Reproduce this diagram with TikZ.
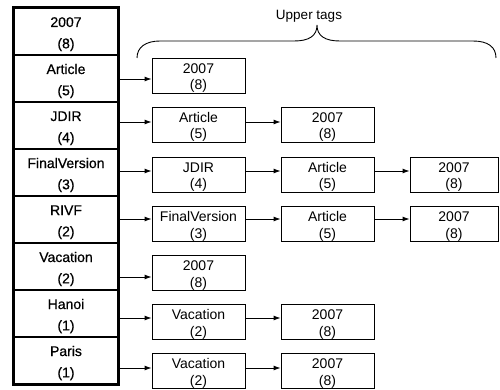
\documentclass[tikz,border=0pt]{standalone}
\usepackage{fontspec}
\setmainfont{Liberation Sans}
\newfontfamily\cellfont[FakeBold=0.6]{Liberation Sans}
\usetikzlibrary{arrows.meta}
\begin{document}
\begin{tikzpicture}[x=1pt,y=-1pt,
  tagcell/.style={draw,line width=1.5pt,minimum width=104pt,minimum height=47pt,
    inner sep=0pt,align=center,text height=36pt,text depth=2.4pt,
    font=\cellfont\fontsize{14}{21.3}\selectfont},
  tagbox/.style={draw,line width=0.9pt,minimum width=93pt,minimum height=35pt,
    inner sep=0pt,align=center,text height=31pt,text depth=2pt,
    font=\fontsize{14}{16.4}\selectfont},
  lastbox/.style={tagbox,minimum width=88pt},
  link/.style={line width=0.9pt,-{Latex[length=7pt,width=5pt]}}]
\useasboundingbox (0,0) rectangle (500,390);

% tag list, most frequent first
\node[tagcell] (L1) at (66,31.5)  {2007\\(8)};
\node[tagcell] (L2) at (66,78.5)  {Article\\(5)};
\node[tagcell] (L3) at (66,125.5) {JDIR\\(4)};
\node[tagcell] (L4) at (66,172.5) {FinalVersion\\(3)};
\node[tagcell] (L5) at (66,219.5) {RIVF\\(2)};
\node[tagcell] (L6) at (66,266.5) {Vacation\\(2)};
\node[tagcell] (L7) at (66,313.5) {Hanoi\\(1)};
\node[tagcell] (L8) at (66,360.5) {Paris\\(1)};
\draw[line width=3pt] (L1.north west) rectangle (L8.south east);

% chains of upper tags
\node[tagbox] (B11) at (198.5,75.5) {2007\\(8)};

\node[tagbox] (B21) at (198.5,124.5) {Article\\(5)};
\node[tagbox] (B22) at (327.5,124.5) {2007\\(8)};

\node[tagbox]  (B31) at (198.5,174.5) {JDIR\\(4)};
\node[tagbox]  (B32) at (327.5,174.5) {Article\\(5)};
\node[lastbox] (B33) at (454,174.5)   {2007\\(8)};

\node[tagbox]  (B41) at (198.5,223.5) {FinalVersion\\(3)};
\node[tagbox]  (B42) at (327.5,223.5) {Article\\(5)};
\node[lastbox] (B43) at (454,223.5)   {2007\\(8)};

\node[tagbox] (B51) at (198.5,272.5) {2007\\(8)};

\node[tagbox] (B61) at (198.5,321.5) {Vacation\\(2)};
\node[tagbox] (B62) at (327.5,321.5) {2007\\(8)};

\node[tagbox] (B71) at (198.5,370.5) {Vacation\\(2)};
\node[tagbox] (B72) at (327.5,370.5) {2007\\(8)};

% heights of the links in each row
\coordinate (r1) at (0,79);
\coordinate (r2) at (0,122);
\coordinate (r3) at (0,171);
\coordinate (r4) at (0,219);
\coordinate (r5) at (0,277);
\coordinate (r6) at (0,318);
\coordinate (r7) at (0,368);

\draw[link] (L2.east |- r1) -- (B11.west |- r1);
\draw[link] (L3.east |- r2) -- (B21.west |- r2);
\draw[link] (B21.east |- r2) -- (B22.west |- r2);
\draw[link] (L4.east |- r3) -- (B31.west |- r3);
\draw[link] (B31.east |- r3) -- (B32.west |- r3);
\draw[link] (B32.east |- r3) -- (B33.west |- r3);
\draw[link] (L5.east |- r4) -- (B41.west |- r4);
\draw[link] (B41.east |- r4) -- (B42.west |- r4);
\draw[link] (B42.east |- r4) -- (B43.west |- r4);
\draw[link] (L6.east |- r5) -- (B51.west |- r5);
\draw[link] (L7.east |- r6) -- (B61.west |- r6);
\draw[link] (B61.east |- r6) -- (B62.west |- r6);
\draw[link] (L8.east |- r7) -- (B71.west |- r7);
\draw[link] (B71.east |- r7) -- (B72.west |- r7);

% brace over the upper tags
\draw[line width=0.9pt] (137,58) .. controls (137,47) and (146,41) .. (160,41)
  -- (294,41) .. controls (309,41) and (317,36) .. (317,25)
  .. controls (317,36) and (325,41) .. (340,41)
  -- (473,41) .. controls (488,41) and (496,47) .. (496,58);
\node[font=\fontsize{13.5}{16}\selectfont] (up) at (309,16.5) {Upper tags};
\end{tikzpicture}
\end{document}
